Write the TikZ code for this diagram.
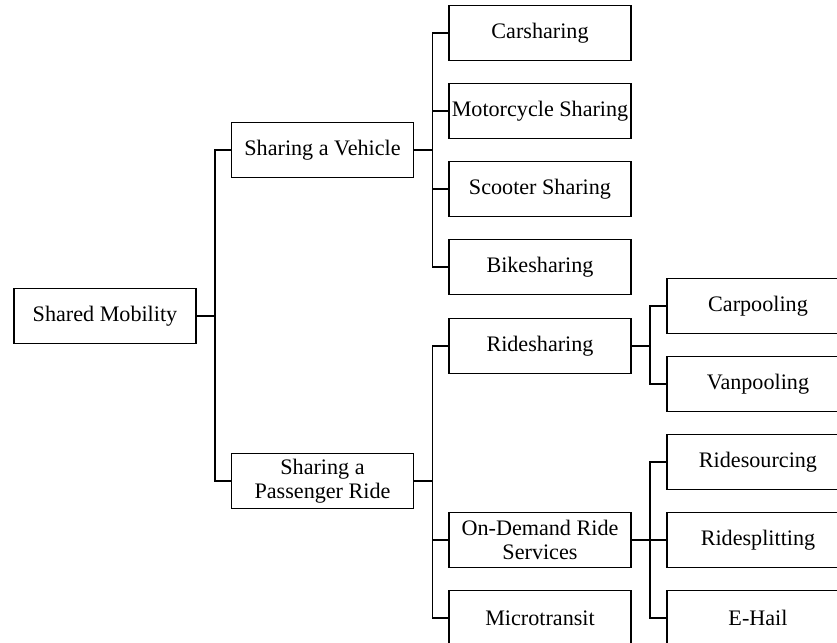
\documentclass[tikz,border=0pt]{standalone}
\usepackage{fontspec}
\setmainfont{Liberation Serif}
\usetikzlibrary{positioning}

\begin{document}
\begin{tikzpicture}[x=0.03cm, y=-0.03cm,
  box/.style={draw, line width=1.5pt, minimum width=5.46cm, minimum height=1.65cm,
    inner xsep=1pt, align=center, font=\fontsize{18.9}{20.5}\selectfont},
  link/.style={line width=1.5pt}]
\useasboundingbox (0,0) rectangle (837,643);
\clip (0,0) rectangle (837,643);
%%%%%%%%%%%%%%
\node[box] (sm) at (105,316) {Shared Mobility};
\node[box] (veh) at (322.5,150) {Sharing a Vehicle};
\node[box] (ride) at (322.5,481) {Sharing a\\Passenger Ride};
%%%%%%%%%%%%%%
\node[box] (car) at (540,33) {Carsharing};
\node[box] (moto) at (540,111) {Motorcycle Sharing};
\node[box] (scoot) at (540,189) {Scooter Sharing};
\node[box] (bike) at (540,267) {Bikesharing};
\node[box] (rides) at (540,346) {Ridesharing};
\node[box] (ondem) at (540,540) {On-Demand Ride\\Services};
\node[box] (micro) at (540,618) {Microtransit};
%%%%%%%%%%%%%%
\node[box] (carp) at (758,306) {Carpooling};
\node[box] (vanp) at (758,384) {Vanpooling};
\node[box] (rsrc) at (758,462) {Ridesourcing};
\node[box] (rspl) at (758,540) {Ridesplitting};
\node[box] (ehail) at (758,618) {E-Hail};
%%%%%%%%%%%%%%%%%%%%%%%%%%%%%%%%%%%%%%%%%%
\draw[link] (sm.east) -- ++(18,0) |- (veh.west);
\draw[link] (sm.east) -- ++(18,0) |- (ride.west);
%%%%%%%%%%%%%%
\draw[link] (veh.east) -- ++(18,0) |- (car.west);
\draw[link] (veh.east) -- ++(18,0) |- (moto.west);
\draw[link] (veh.east) -- ++(18,0) |- (scoot.west);
\draw[link] (veh.east) -- ++(18,0) |- (bike.west);
%%%%%%%%%%%%%%
\draw[link] (ride.east) -- ++(18,0) |- (rides.west);
\draw[link] (ride.east) -- ++(18,0) |- (ondem.west);
\draw[link] (ride.east) -- ++(18,0) |- (micro.west);
%%%%%%%%%%%%%%
\draw[link] (rides.east) -- ++(18,0) |- (carp.west);
\draw[link] (rides.east) -- ++(18,0) |- (vanp.west);
\draw[link] (ondem.east) -- ++(18,0) |- (rsrc.west);
\draw[link] (ondem.east) -- ++(18,0) |- (rspl.west);
\draw[link] (ondem.east) -- ++(18,0) |- (ehail.west);
\end{tikzpicture}
\end{document}
